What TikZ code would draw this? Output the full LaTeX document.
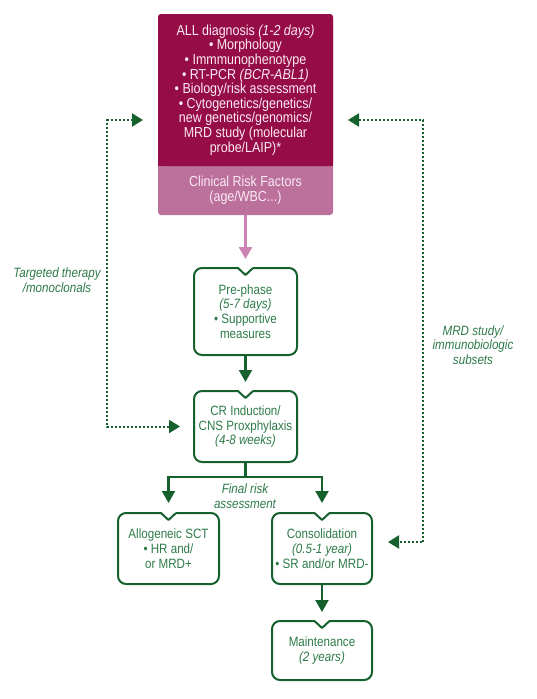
\documentclass[tikz,border=0pt]{standalone}
\usepackage{fontspec}
\setmainfont[FakeStretch=0.86]{Liberation Sans}
\usetikzlibrary{arrows.meta,positioning,backgrounds}
\definecolor{diagred}{RGB}{150,12,70}
\definecolor{riskpink}{RGB}{188,112,156}
\definecolor{arrowpink}{RGB}{205,130,180}
\definecolor{palepink}{RGB}{250,234,242}
\definecolor{stepgreen}{RGB}{22,96,46}
\definecolor{textgreen}{RGB}{45,122,72}
\begin{document}
\begin{tikzpicture}[x=1pt, y=-1pt,
    every node/.style={align=center, outer sep=0pt, font=\fontsize{13.5}{14.8}\selectfont},
    phase/.style={draw=stepgreen, line width=2pt, rounded corners=8pt, text=textgreen, inner sep=0pt},
    topbox/.style={text=palepink, minimum width=175pt, inner sep=0pt, font=\fontsize{14.5}{14.6}\selectfont},
    note/.style={text=textgreen, font=\fontsize{13.5}{14.8}\selectfont\itshape},
    flow/.style={stepgreen, line width=2.2pt, -{Triangle[width=13pt,length=12pt]}, shorten >=9pt},
    dotflow/.style={stepgreen, line width=2pt, dash pattern=on 2pt off 2pt,
        {Triangle[width=13pt,length=11pt]}-{Triangle[width=13pt,length=11pt]}}]
    \useasboundingbox (0,0) rectangle (536,699);

    \node[topbox, minimum height=152pt] (diag) at (245.5,90) {ALL diagnosis \textit{(1-2 days)}\\ • Morphology\\ • Immmunophenotype\\ • RT-PCR \textit{(BCR-ABL1)}\\ • Biology/risk assessment\\ • Cytogenetics/genetics/\\ new genetics/genomics/\\ MRD study (molecular\\ probe/LAIP)*};
    \node[topbox, minimum height=49pt, below=0pt of diag] (clin) {Clinical Risk Factors\\ (age/WBC...)};

    \begin{scope}[on background layer]
        \fill[riskpink, rounded corners=3pt] (diag.north west) rectangle (clin.south east);
        \fill[diagred, rounded corners=3pt] (diag.north west) rectangle (diag.south east);
        \fill[diagred] ([yshift=4pt]diag.south west) rectangle (diag.south east);
    \end{scope}

    \node[phase, minimum width=103pt, minimum height=87pt] (pre) at (245.5,311.5) {Pre-phase\\ \textit{(5-7 days)}\\ • Supportive\\ measures};
    \node[phase, minimum width=103pt, minimum height=71pt] (ind) at (245.5,426.5) {CR Induction/\\ CNS Proxphylaxis\\ \textit{(4-8 weeks)}};
    \node[phase, minimum width=101pt, minimum height=71pt] (allo) at (168.5,548.5) {Allogeneic SCT\\ • HR and/\\ or MRD+};
    \node[phase, minimum width=100pt, minimum height=71pt] (cons) at (322,548.5) {Consolidation\\ \textit{(0.5-1 year)}\\ • SR and/or MRD-};
    \node[phase, minimum width=100pt, minimum height=59pt] (maint) at (322,650.5) {Maintenance\\ \textit{(2 years)}};

    \foreach \n in {pre,ind,allo,cons,maint} {
        \fill[white] ([xshift=-7pt,yshift=2pt]\n.north) rectangle ([xshift=7pt,yshift=-2pt]\n.north);
        \draw[stepgreen, line width=2pt, line join=round] ([xshift=-7.5pt]\n.north) -- ([yshift=-7pt]\n.north) -- ([xshift=7.5pt]\n.north);
    }

    \node[note] (risk) at (245,496) {Final risk\\ assessment};
    \node[note] (targeted) at (57,280) {Targeted therapy\\ /monoclonals};
    \node[note] (mrd) at (473,345) {MRD study/\\ immunobiologic\\ subsets};

    \coordinate (split) at (245.5,477);
    \draw[flow, arrowpink, line width=2.6pt] (clin) -- (pre);
    \draw[flow] (pre) -- (ind);
    \draw[stepgreen, line width=2.2pt] (ind) -- (split);
    \draw[flow, shorten >=10pt] (split) -| (allo);
    \draw[flow, shorten >=10pt] (split) -| (cons);
    \draw[flow] (cons) -- (maint);

    \draw[dotflow, shorten <=15pt, shorten >=14pt] ([yshift=-30pt]diag.west) -- ++(-51,0) |- (ind);
    \draw[dotflow, shorten <=15pt, shorten >=16pt] ([yshift=-30pt]diag.east) -- ++(90,0) |- ([yshift=6.5pt]cons.east);
\end{tikzpicture}
\end{document}
